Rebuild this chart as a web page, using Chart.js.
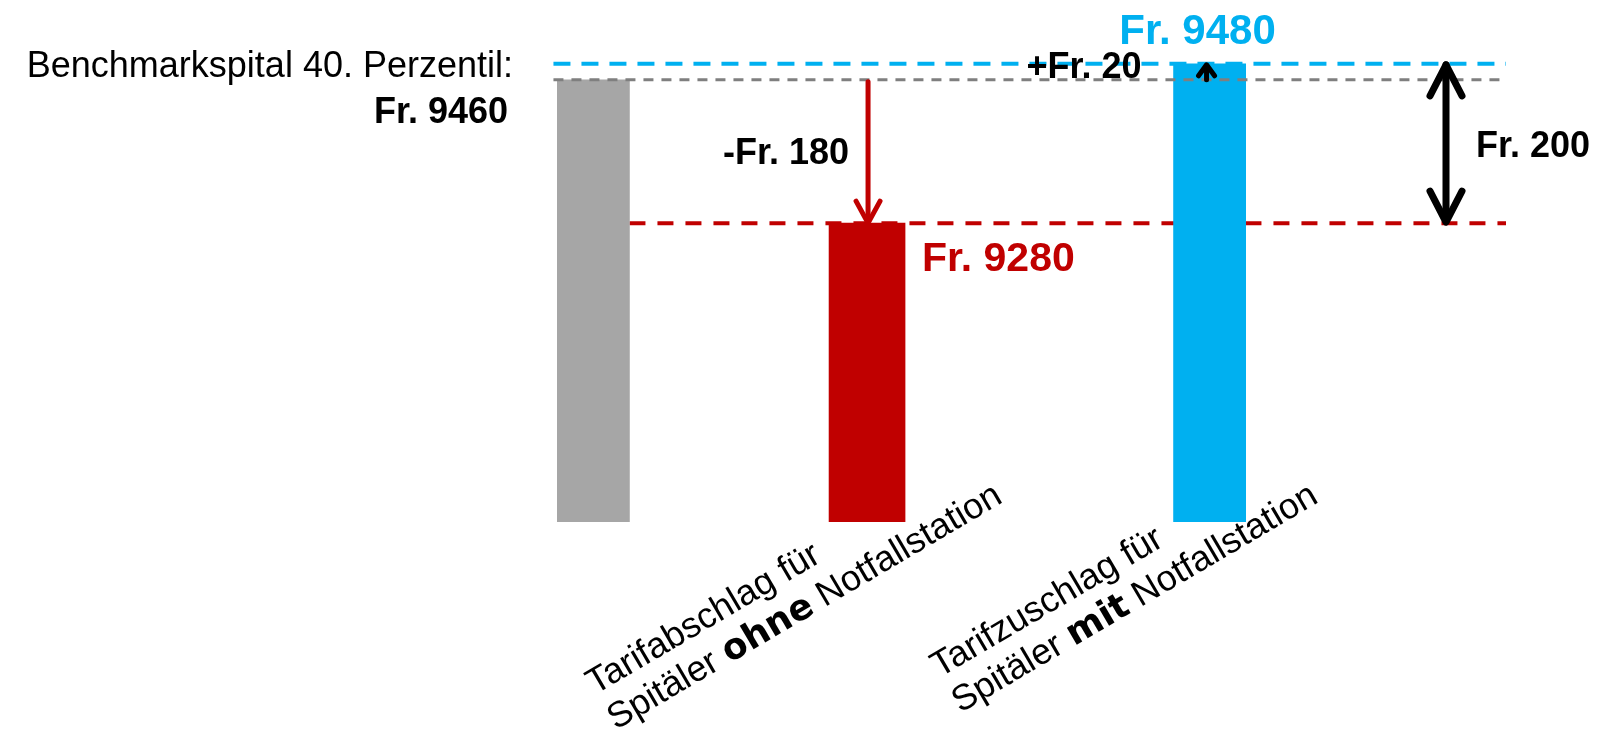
<!DOCTYPE html>
<html lang="de">
<head>
<meta charset="utf-8">
<title>Tarifabschlag und Tarifzuschlag Notfallstation</title>
<script src="https://cdn.jsdelivr.net/npm/chart.js@4.4.1/dist/chart.umd.min.js"></script>
<style>
  html, body { margin: 0; padding: 0; background: #ffffff; }
  #wrap { position: relative; width: 1606px; height: 730px; }
</style>
</head>
<body>
<div id="wrap"><canvas id="chart"></canvas></div>
<script>
// Baserate per Fall in Franken
const categories = [
  'Benchmarkspital 40. Perzentil:',
  'Tarifabschlag für Spitäler ohne Notfallstation',
  'Tarifzuschlag für Spitäler mit Notfallstation'
];
const tariffs = [9460, 9280, 9480];

// Axis labels, two lines each; the key word is set in heavy type
const axisLabelLines = [
  null,
  [[{ t: 'Tarifabschlag für' }], [{ t: 'Spitäler ' }, { t: 'ohne', b: true }, { t: ' Notfallstation' }]],
  [[{ t: 'Tarifzuschlag für' }], [{ t: 'Spitäler ' }, { t: 'mit', b: true }, { t: ' Notfallstation' }]]
];

const GRAY = '#A6A6A6', RED = '#C00000', BLUE = '#00B0F0';
const barColors = [GRAY, RED, BLUE];
const FONT = '"Liberation Sans", Arial, sans-serif';
const HEAVY = '"DejaVu Sans", "Liberation Sans", sans-serif';

// Bars sit in slots of an evenly spaced category axis; the empty slots
// give the wider gap before the surcharge bar.
const slotOf = [0, 4, 9];
const slotCount = 10;
const slotLabels = Array.from({ length: slotCount }, () => '');
const slotValues = Array.from({ length: slotCount }, () => null);
const slotColors = Array.from({ length: slotCount }, () => GRAY);
slotOf.forEach((s, i) => {
  slotLabels[s] = categories[i];
  slotValues[s] = tariffs[i];
  slotColors[s] = barColors[i];
});

const fmt = v => 'Fr. ' + v;

function dashed(ctx, x0, x1, y, color, width, dash) {
  ctx.save();
  ctx.strokeStyle = color;
  ctx.lineWidth = width;
  ctx.setLineDash(dash);
  ctx.beginPath();
  ctx.moveTo(x0, y);
  ctx.lineTo(x1, y);
  ctx.stroke();
  ctx.restore();
}

function chevron(ctx, x, tipY, dir, halfW, h) {
  // dir = +1: pointing down, -1: pointing up
  ctx.beginPath();
  ctx.moveTo(x - halfW, tipY - dir * h);
  ctx.lineTo(x, tipY);
  ctx.lineTo(x + halfW, tipY - dir * h);
  ctx.stroke();
}

function arrow(ctx, x, yFrom, yTo, color, width, halfW, h, both) {
  ctx.save();
  ctx.strokeStyle = color;
  ctx.lineWidth = width;
  ctx.lineCap = 'round';
  ctx.lineJoin = 'round';
  const dir = yTo > yFrom ? 1 : -1;
  ctx.beginPath();
  ctx.moveTo(x, yFrom);
  ctx.lineTo(x, yTo - dir * 2);
  ctx.stroke();
  chevron(ctx, x, yTo, dir, halfW, h);
  if (both) chevron(ctx, x, yFrom, -dir, halfW, h);
  ctx.restore();
}

function text(ctx, str, x, y, font, color, align) {
  ctx.save();
  ctx.font = font;
  ctx.fillStyle = color;
  ctx.textAlign = align || 'left';
  ctx.textBaseline = 'alphabetic';
  ctx.fillText(str, x, y);
  ctx.restore();
}

function rotatedLabel(ctx, lines, x, y) {
  ctx.save();
  ctx.translate(x, y);
  ctx.rotate(-30.5 * Math.PI / 180);
  ctx.fillStyle = '#000000';
  ctx.textBaseline = 'alphabetic';
  ctx.textAlign = 'left';
  lines.forEach((segs, li) => {
    let cx = 0;
    segs.forEach(seg => {
      ctx.font = seg.b ? 'bold 36px ' + HEAVY : '36px ' + FONT;
      ctx.fillText(seg.t, cx, li * 41);
      cx += ctx.measureText(seg.t).width;
    });
  });
  ctx.restore();
}

const ruleEndX = 1506;
const spanArrowX = 1446;

const annotations = {
  id: 'tariffAnnotations',
  beforeDatasetsDraw(chart) {
    const { ctx, scales: { y } } = chart;
    const meta = chart.getDatasetMeta(0);
    const base = meta.data[slotOf[0]];
    // reduced tariff reference line, behind the bars
    dashed(ctx, base.x + base.width / 2, ruleEndX, y.getPixelForValue(tariffs[1]), RED, 4, [16, 12]);
  },
  afterDatasetsDraw(chart) {
    const { ctx, chartArea, scales: { y } } = chart;
    const meta = chart.getDatasetMeta(0);
    const bars = slotOf.map(s => meta.data[s]);
    const yBench = y.getPixelForValue(tariffs[0]);
    const yLow = y.getPixelForValue(tariffs[1]);
    const yHigh = y.getPixelForValue(tariffs[2]);
    const left = bars[0].x - bars[0].width / 2;

    dashed(ctx, left, ruleEndX, yHigh, BLUE, 4, [17, 11]);
    dashed(ctx, left, ruleEndX, yBench, '#7F7F7F', 3, [10, 8]);

    // benchmark label
    text(ctx, categories[0], 513, yBench - 3, '36px ' + FONT, '#000000', 'right');
    text(ctx, fmt(tariffs[0]), 508, yBench + 43, 'bold 36px ' + FONT, '#000000', 'right');

    // discount arrow
    const xr = bars[1].x + 1;
    arrow(ctx, xr, yBench + 2, yLow, RED, 5, 12, 22, false);
    text(ctx, '-' + fmt(tariffs[0] - tariffs[1]), xr - 19, (yBench + yLow) / 2 + 13, 'bold 36px ' + FONT, '#000000', 'right');
    text(ctx, fmt(tariffs[1]), bars[1].x + bars[1].width / 2 + 17, yLow + 48, 'bold 41px ' + FONT, RED, 'left');

    // surcharge arrow
    const xb = bars[2].x - 5;
    arrow(ctx, xb, yBench, yHigh + 1, '#000000', 5, 8, 11, false);
    text(ctx, '+' + fmt(tariffs[2] - tariffs[0]), xb - 65, yBench - 2, 'bold 36px ' + FONT, '#000000', 'right');
    text(ctx, fmt(tariffs[2]), bars[2].x - 14, yHigh - 20, 'bold 42px ' + FONT, BLUE, 'center');

    // span between reduced and raised tariff
    arrow(ctx, spanArrowX, yHigh + 1, yLow - 1, '#000000', 7, 16, 31, true);
    text(ctx, fmt(tariffs[2] - tariffs[1]), spanArrowX + 30, (yHigh + yLow) / 2 + 14, 'bold 36px ' + FONT, '#000000', 'left');

    // rotated category labels
    const labelDrop = [0, 173, 156];
    [1, 2].forEach(i => {
      rotatedLabel(ctx, axisLabelLines[i], bars[i].x - 272, chartArea.bottom + labelDrop[i]);
    });
  }
};

Chart.defaults.font.family = FONT;

const chart = new Chart(document.getElementById('chart'), {
  type: 'bar',
  data: {
    labels: slotLabels,
    datasets: [{
      data: slotValues,
      backgroundColor: slotColors,
      borderWidth: 0,
      barThickness: 76
    }]
  },
  options: {
    responsive: true,
    maintainAspectRatio: false,
    animation: false,
    events: [],
    layout: { padding: { left: 557, right: 360, top: 8, bottom: 208 } },
    scales: {
      x: { display: false, offset: true },
      y: { display: false, min: 8905, max: 9550 }
    },
    plugins: {
      legend: { display: false },
      tooltip: { enabled: false }
    }
  },
  plugins: [annotations]
});
</script>
</body>
</html>
